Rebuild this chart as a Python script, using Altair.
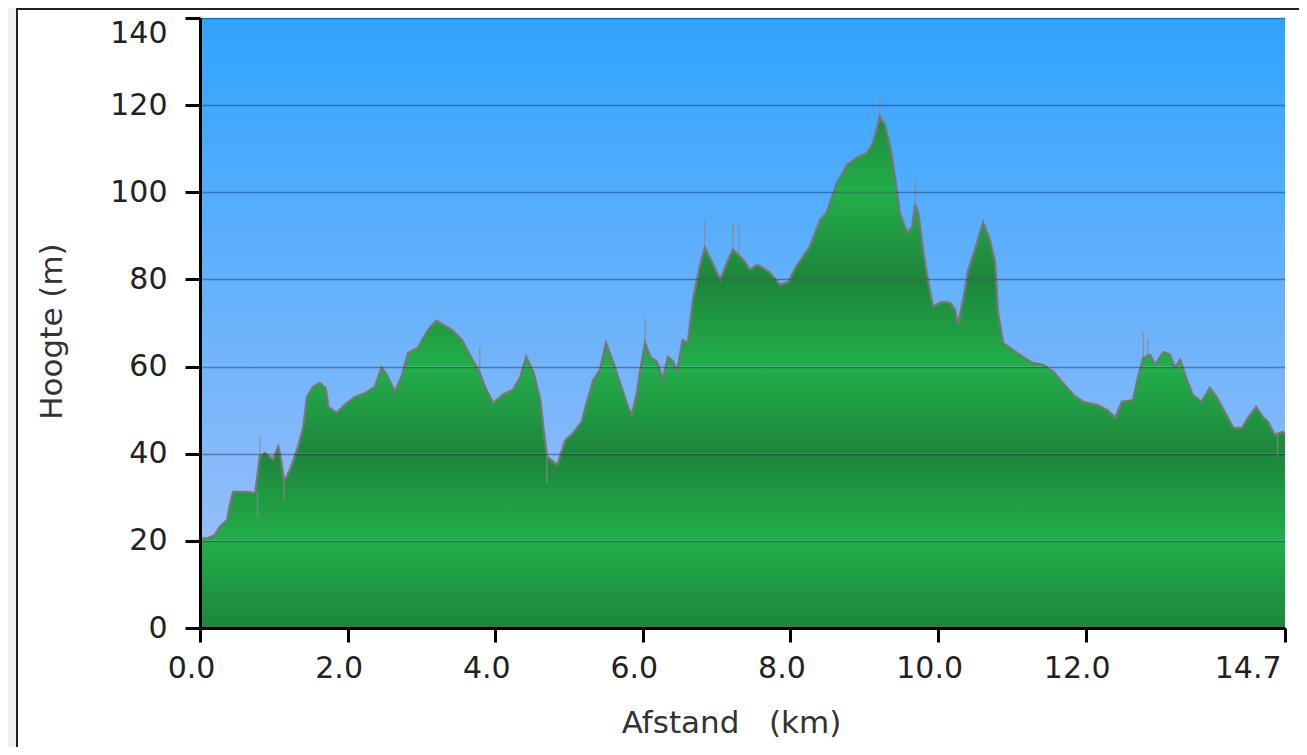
import altair as alt
import pandas as pd

# ---- data ----
km = [0.00, 0.11, 0.20, 0.27, 0.37, 0.41, 0.45, 0.61, 0.75, 0.81, 0.88, 0.99, 1.06, 1.09, 1.14,
      1.22, 1.33, 1.40, 1.45, 1.53, 1.62, 1.70, 1.74, 1.85, 1.96, 2.10, 2.24, 2.37, 2.46, 2.53,
      2.64, 2.73, 2.82, 2.95, 3.09, 3.20, 3.41, 3.55, 3.69, 3.79, 3.86, 3.97, 4.10, 4.24, 4.34,
      4.42, 4.52, 4.61, 4.65, 4.70, 4.84, 4.95, 5.06, 5.17, 5.24, 5.33, 5.42, 5.50, 5.60, 5.69,
      5.80, 5.85, 5.92, 5.96, 6.03, 6.10, 6.19, 6.27, 6.34, 6.41, 6.46, 6.54, 6.61, 6.68, 6.77,
      6.84, 6.94, 7.05, 7.14, 7.22, 7.36, 7.45, 7.55, 7.63, 7.72, 7.86, 7.97, 8.09, 8.26, 8.40,
      8.49, 8.63, 8.77, 8.90, 9.04, 9.12, 9.21, 9.28, 9.35, 9.42, 9.48, 9.58, 9.65, 9.69, 9.73,
      9.80, 9.86, 9.93, 10.05, 10.16, 10.23, 10.27, 10.34, 10.41, 10.50, 10.61, 10.70, 10.77,
      10.81, 10.88, 11.01, 11.15, 11.28, 11.42, 11.56, 11.69, 11.83, 11.96, 12.15, 12.29, 12.40,
      12.49, 12.64, 12.71, 12.78, 12.87, 12.94, 13.05, 13.14, 13.21, 13.28, 13.37, 13.45, 13.57,
      13.68, 13.78, 13.89, 14.00, 14.12, 14.20, 14.31, 14.40, 14.47, 14.56, 14.67, 14.70]
elev = [20.5, 20.6, 21.3, 23.2, 24.8, 28.7, 31.2, 31.2, 31.0, 39.3, 40.2, 38.6, 41.6, 39.3, 33.5,
        36.3, 41.6, 46.1, 53.0, 55.3, 56.2, 55.1, 50.7, 49.3, 51.2, 53.0, 53.9, 55.3, 59.7, 58.1,
        54.2, 57.6, 63.1, 64.3, 68.4, 70.5, 68.4, 66.1, 61.5, 58.5, 55.3, 51.6, 53.5, 54.6, 57.6,
        62.2, 58.5, 52.3, 46.1, 39.3, 37.4, 43.1, 44.8, 47.3, 51.6, 56.9, 59.2, 65.4, 60.8, 56.2,
        50.7, 48.9, 53.9, 58.5, 65.4, 62.2, 61.1, 56.9, 62.2, 61.1, 58.5, 66.1, 65.4, 75.3, 82.9,
        87.2, 83.8, 79.9, 83.8, 86.8, 84.5, 82.2, 83.3, 82.6, 81.5, 78.7, 79.4, 83.3, 87.4, 93.6,
        95.2, 102.1, 106.3, 107.9, 109.0, 111.3, 117.3, 115.4, 110.4, 102.8, 95.2, 90.7, 92.0, 97.1, 95.2,
        86.1, 79.9, 73.7, 74.8, 74.6, 73.0, 69.5, 75.3, 82.2, 86.8, 93.0, 89.1, 84.0,
        72.3, 65.4, 63.8, 62.2, 60.8, 60.4, 58.8, 56.2, 53.5, 51.9, 51.2, 50.0, 48.2,
        51.9, 52.3, 57.6, 62.0, 62.7, 60.4, 63.3, 62.7, 59.7, 61.5, 56.9, 53.5, 51.9,
        55.1, 52.8, 49.3, 45.9, 45.9, 48.2, 50.7, 48.4, 47.3, 44.3, 45.0, 44.5]

# thin noisy spikes of the raw track
spike_km = [0.78, 0.81, 1.14, 3.79, 4.70, 6.03, 6.84, 7.22, 7.30, 9.21, 9.69, 12.78, 12.84, 14.60]
spike_lo = [25.5, 39.3, 29.4, 58.5, 33.3, 65.4, 87.2, 86.8, 85.5, 117.3, 97.1, 62.0, 62.5, 39.2]
spike_hi = [31.0, 43.8, 33.5, 64.5, 39.3, 71.2, 93.6, 93.0, 92.5, 122.3, 102.8, 68.0, 66.5, 44.5]

y_ticks = [0, 20, 40, 60, 80, 100, 120, 140]
x_ticks = [0, 2, 4, 6, 8, 10, 12, 14.7]
bands_up = [0, 40, 80, 120]     # dark at bottom, light at top
bands_down = [20, 60, 100]      # light at bottom, dark at top

df = pd.DataFrame({"km": km, "elev": elev})
spikes = pd.DataFrame({"km": spike_km, "lo": spike_lo, "hi": spike_hi})

W, H = 1085, 610
FONT = "DejaVu Sans"

x_scale = alt.Scale(domain=[0, 14.7], nice=False, zero=False)
y_scale = alt.Scale(domain=[0, 140], nice=False)

x_axis = alt.Axis(
    values=x_ticks, format=".1f", title="Afstand\u00a0\u00a0\u00a0(km)",
    grid=False, tickSize=14, tickWidth=3, tickColor="black",
    domainColor="black", domainWidth=3,
    labelFont=FONT, labelFontSize=30, labelColor="#222222", labelPadding=11,
    labelFlush=False,
    labelAlign={"expr": "datum.value >= 14.6 ? 'right' : 'center'"},
    labelOffset={"expr": "datum.value >= 14.6 ? -4 : -9"},
    titleFont=FONT, titleFontSize=31, titleFontWeight="normal", titleColor="#333333",
    titleX=531, titleY=104, titleBaseline="alphabetic", titleAnchor="middle", titleAlign="center",
    zindex=1,
)
y_axis = alt.Axis(
    values=y_ticks, title="Hoogte (m)",
    grid=True, gridColor="#0a2440", gridOpacity=0.4, gridWidth=1.5,
    tickSize=15, tickWidth=3, tickColor="black",
    domainColor="black", domainWidth=3,
    labelFont=FONT, labelFontSize=30, labelColor="#222222", labelPadding=18,
    labelBaseline={"expr": "datum.value >= 140 ? 'top' : 'middle'"},
    labelFlush=False,
    titleFont=FONT, titleFontSize=31, titleFontWeight="normal", titleColor="#333333",
    titleX=-139, titleY=313, titleBaseline="alphabetic", titleAlign="center",
    zindex=1,
)

X = alt.X("km:Q", scale=x_scale, axis=x_axis)


def Y(field):
    return alt.Y(field, type="quantitative", scale=y_scale, axis=y_axis)


# frame (white box with dark border, as on the web page)
frame = alt.Chart(alt.Data(values=[{"a": 1}])).mark_rect(
    fill="white", stroke="#222222", strokeWidth=2
).encode(
    x=alt.value(-183), x2=alt.value(1200), y=alt.value(-9), y2=alt.value(900)
)

DARK, LIGHT = "#1d853a", "#23ae4b"


def band_layer(values, stops):
    grad = alt.LinearGradient(gradient="linear", x1=0, y1=1, x2=0, y2=0, stops=stops)
    return alt.Chart(pd.DataFrame({"lo": values})).transform_calculate(
        hi="datum.lo + 20"
    ).mark_rect(color=grad).encode(
        x=alt.X(datum=0, scale=x_scale, axis=x_axis), x2=alt.X2(datum=14.7),
        y=Y("lo"), y2="hi:Q"
    )


band_a = band_layer(bands_up, [alt.GradientStop(offset=0, color=DARK),
                               alt.GradientStop(offset=1, color=LIGHT)])
band_b = band_layer(bands_down, [alt.GradientStop(offset=0, color=LIGHT),
                                 alt.GradientStop(offset=1, color=DARK)])

sky_grad = alt.LinearGradient(
    gradient="linear", x1=0, y1=0, x2=0, y2=1,
    stops=[alt.GradientStop(offset=0, color="#30a4ff"),
           alt.GradientStop(offset=1, color="#95bdf9")],
)
sky = alt.Chart(df).mark_area(color=sky_grad, interpolate="linear").encode(
    x=X, y=Y("elev"), y2=alt.Y2(datum=140)
)

spike_layer = alt.Chart(spikes).mark_rule(color="#8a8a8a", opacity=0.7, strokeWidth=1.5).encode(
    x=X, y=Y("lo"), y2="hi:Q"
)
line = alt.Chart(df).mark_line(color="#747474", strokeWidth=2.5, opacity=0.9).encode(
    x=X, y=Y("elev")
)

chart = alt.layer(frame, band_a, band_b, sky, spike_layer, line).properties(
    width=W, height=H,
    autosize=alt.AutoSizeParams(type="none"),
    padding={"left": 192, "top": 10, "right": 14, "bottom": 119},
    background="#efefef",
).configure_view(strokeWidth=0)

chart.save("out.html", embed_options={"renderer": "svg", "actions": False})
